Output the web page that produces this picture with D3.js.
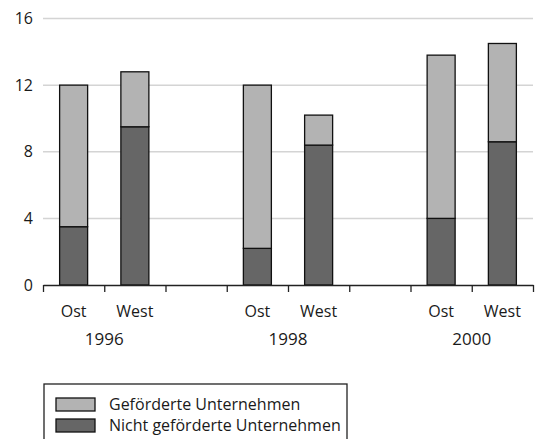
<!DOCTYPE html>
<html>
<head>
<meta charset="utf-8">
<script src="https://cdn.jsdelivr.net/npm/d3@7"></script>
<style>
	body { margin: 0; background: #fff; }
	text { font-family: "Open Sans", sans-serif; fill: #1a1a1a; }
</style>
</head>
<body>
<div id="vizHolder"></div>
<script>
// Data
var years = ['1996', '1998', '2000'],
	regions = ['Ost', 'West'],
	nichtGefoerdert = [3.5, 9.5, 2.2, 8.4, 4.0, 8.6],
	gefoerdert = [8.5, 3.3, 9.8, 1.8, 9.8, 5.9],
	seriesNames = ['Geförderte Unternehmen', 'Nicht geförderte Unternehmen'],
	yTicks = [0, 4, 8, 12, 16];

var width = 542,
	height = 439,
	plotLeft = 43,
	plotRight = 533,
	plotTop = 18.5,
	plotBottom = 285;

// slots: each year has Ost + West, with an empty slot between years
var slots = [], rows = [];
years.forEach(function(y, i) {
	regions.forEach(function(r, j) {
		var k = i * 2 + j;
		slots.push(y + '-' + r);
		rows.push({ slot: y + '-' + r, year: y, region: r, nicht: nichtGefoerdert[k], gef: gefoerdert[k] });
	});
	if (i < years.length - 1) slots.push('gap' + i);
});

var xScale = d3.scaleBand().domain(slots).range([plotLeft, plotRight]).padding(0);
var xTickScale = d3.scaleLinear().domain([0, slots.length]).range([plotLeft, plotRight]);
var yScale = d3.scaleLinear().domain([0, 16]).range([plotBottom, plotTop]);

var stack = d3.stack().keys(['nicht', 'gef'])(rows);
var colors = { nicht: '#666666', gef: '#b3b3b3' };

var svg = d3.select('#vizHolder').append('svg')
	.attr('width', width)
	.attr('height', height);

// gridlines
svg.append('g').selectAll('line')
	.data(yTicks.filter(function(d) { return d > 0; }))
	.enter().append('line')
	.attr('x1', plotLeft).attr('x2', plotRight)
	.attr('y1', function(d) { return yScale(d); })
	.attr('y2', function(d) { return yScale(d); })
	.attr('stroke', '#d4d4d4')
	.attr('stroke-width', 1.5);

// y labels
svg.append('g').selectAll('text')
	.data(yTicks)
	.enter().append('text')
	.attr('x', 33)
	.attr('y', function(d) { return yScale(d); })
	.attr('dy', '0.35em')
	.attr('text-anchor', 'end')
	.style('font-size', '16px')
	.text(function(d) { return d; });

// bars
var barW = 28;
stack.forEach(function(layer) {
	svg.append('g').selectAll('rect')
		.data(layer)
		.enter().append('rect')
		.attr('x', function(d) { return xScale(d.data.slot) + xScale.bandwidth() / 2 - barW / 2; })
		.attr('width', barW)
		.attr('y', function(d) { return yScale(d[1]); })
		.attr('height', function(d) { return yScale(d[0]) - yScale(d[1]); })
		.attr('fill', colors[layer.key])
		.attr('stroke', '#111')
		.attr('stroke-width', 1.3);
});

// x axis
var xAxis = svg.append('g')
	.attr('transform', 'translate(0,' + plotBottom + ')')
	.call(d3.axisBottom(xTickScale)
		.tickValues(d3.range(slots.length + 1))
		.tickFormat('')
		.tickSize(7)
		.tickSizeOuter(0));
xAxis.select('.domain').attr('stroke', '#222').attr('stroke-width', 1.5);
xAxis.selectAll('.tick line').attr('stroke', '#222').attr('stroke-width', 1.3);

// region labels
svg.append('g').selectAll('text')
	.data(rows)
	.enter().append('text')
	.attr('x', function(d) { return xScale(d.slot) + xScale.bandwidth() / 2; })
	.attr('y', 317)
	.attr('text-anchor', 'middle')
	.style('font-size', '16px')
	.text(function(d) { return d.region; });

// year labels
svg.append('g').selectAll('text')
	.data(years)
	.enter().append('text')
	.attr('x', function(d) {
		return (xScale(d + '-Ost') + xScale(d + '-West') + xScale.bandwidth()) / 2;
	})
	.attr('y', 345)
	.attr('text-anchor', 'middle')
	.style('font-size', '17px')
	.text(function(d) { return d; });

// legend
var legend = svg.append('g');
legend.append('rect')
	.attr('x', 44).attr('y', 384)
	.attr('width', 303).attr('height', 70)
	.attr('fill', 'none')
	.attr('stroke', '#222')
	.attr('stroke-width', 1.3);

var legendRows = legend.selectAll('g.item')
	.data(['gef', 'nicht'])
	.enter().append('g')
	.attr('class', 'item')
	.attr('transform', function(d, i) { return 'translate(56,' + (398 + i * 21) + ')'; });

legendRows.append('rect')
	.attr('width', 39).attr('height', 13)
	.attr('fill', function(d) { return colors[d]; })
	.attr('stroke', '#111')
	.attr('stroke-width', 1.3);

legendRows.append('text')
	.attr('x', 53)
	.attr('y', 12)
	.style('font-size', '16px')
	.text(function(d, i) { return seriesNames[i]; });
</script>
</body>
</html>
